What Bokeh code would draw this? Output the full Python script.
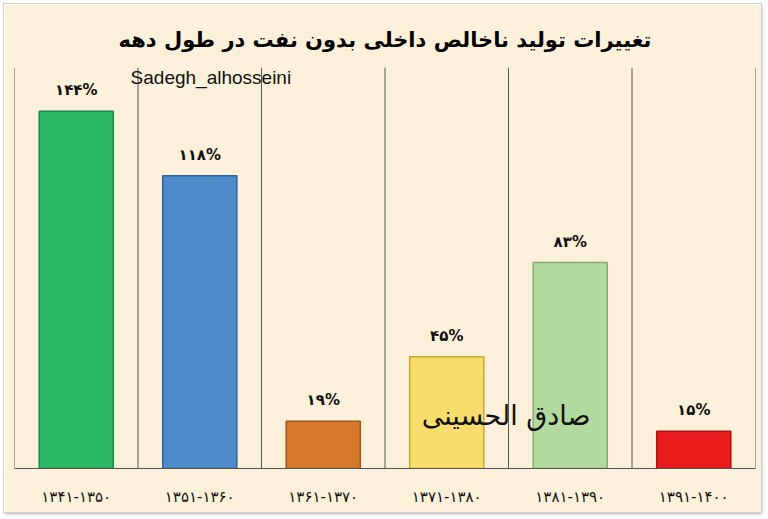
from bokeh.plotting import figure
from bokeh.models import Range1d, FixedTicker, ColumnDataSource
from bokeh.core.properties import value
from bokeh.embed import file_html
from bokeh.resources import INLINE

# ---- data ----
periods = ["۱۳۴۱-۱۳۵۰", "۱۳۵۱-۱۳۶۰", "۱۳۶۱-۱۳۷۰", "۱۳۷۱-۱۳۸۰", "۱۳۸۱-۱۳۹۰", "۱۳۹۱-۱۴۰۰"]
growth = [144, 118, 19, 45, 83, 15]
growth_labels = ["۱۴۴%", "۱۱۸%", "۱۹%", "۴۵%", "۸۳%", "۱۵%"]
fill_colors = ["#2bb865", "#4f8acb", "#d57a2c", "#f9dd6c", "#b2da9e", "#e81c1c"]
line_colors = ["#1c8a48", "#2f6298", "#a5561b", "#c6a638", "#86ac72", "#a81212"]
title_text = "تغییرات تولید ناخالص داخلی بدون نفت در طول دهه"
author_text = "Sadegh_alhosseini"
watermark_text = "صادق الحسینی"

BG = "#fbf1da"
n = len(periods)
centers = [i + 0.5 for i in range(n)]
bounds = list(range(n + 1))

p = figure(width=757, height=508, output_backend="svg", toolbar_location=None,
           x_range=Range1d(0, n), y_range=Range1d(0, 187),
           min_border_left=10, min_border_right=6, min_border_top=0, min_border_bottom=44)
p.margin = (4, 7, 7, 4)
p.styles = {"box-shadow": "0 0 0 1px #cfcfcf, 1px 2px 3px #b0b0b0"}
p.background_fill_color = BG
p.border_fill_color = BG
p.outline_line_color = None
p.xgrid.visible = False
p.ygrid.visible = False
p.yaxis.visible = False

# category separators
p.segment(x0=bounds, y0=[0] * len(bounds), x1=bounds, y1=[161.5] * len(bounds),
          line_color="#555555", line_width=1)

src = ColumnDataSource(dict(x=centers, top=growth, fill=fill_colors, line=line_colors,
                            lab=growth_labels))
p.vbar(x="x", top="top", bottom=0, width=0.6, source=src,
       fill_color="fill", line_color="line", line_width=1.5)
p.text(x="x", y="top", text="lab", source=src, text_align="center", text_baseline="bottom",
       y_offset=-12, text_font=value("DejaVu Sans"), text_font_style="bold",
       text_font_size="15px", text_color="#111111")

# titles / annotations
p.text(x=[n / 2], y=[172.5], text=[title_text], text_align="center", text_baseline="middle",
       text_font=value("DejaVu Sans"), text_font_style="bold", text_font_size="21px",
       text_color="#000000")
p.text(x=[0.94], y=[157.5], text=[author_text], text_align="left", text_baseline="middle",
       text_font=value("Liberation Sans"), text_font_size="19px", text_color="#111111")
p.text(x=[3.98], y=[21.5], text=[watermark_text], text_align="center", text_baseline="middle",
       text_font=value("DejaVu Sans"), text_font_size="27px", text_color="#111111")

ax = p.xaxis[0]
ax.ticker = FixedTicker(ticks=centers)
ax.major_label_overrides = {c: lab for c, lab in zip(centers, periods)}
ax.major_tick_line_color = None
ax.minor_tick_line_color = None
ax.axis_line_color = "#555555"
ax.axis_line_width = 1
ax.major_label_standoff = 13
ax.major_label_text_font = "DejaVu Sans"
ax.major_label_text_font_size = "15px"
ax.major_label_text_color = "#111111"

open("out.html", "w").write(file_html(p, INLINE))
